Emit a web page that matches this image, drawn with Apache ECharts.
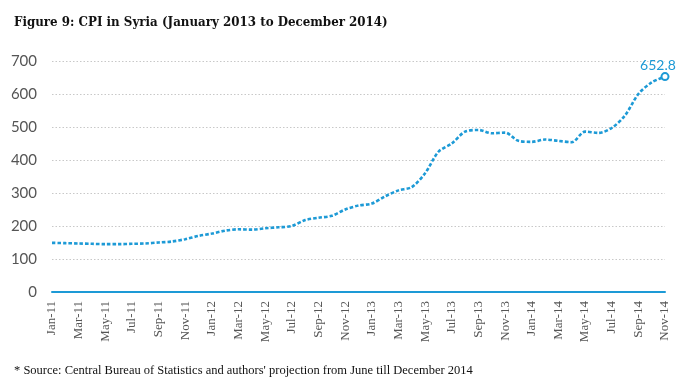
<!DOCTYPE html>
<html>
<head>
<meta charset="utf-8">
<script src="https://cdn.jsdelivr.net/npm/echarts@6/dist/echarts.min.js"></script>
<style>
html,body{margin:0;padding:0;background:#fff;}
#c{width:700px;height:379px;}
</style>
</head>
<body>
<div id="c"></div>
<script>
var titleText = 'Figure 9: CPI in Syria (January 2013 to December 2014)';
var footText = "* Source: Central Bureau of Statistics and authors' projection from June till December 2014";
var months = ['Jan-11','Feb-11','Mar-11','Apr-11','May-11','Jun-11','Jul-11','Aug-11','Sep-11','Oct-11','Nov-11','Dec-11',
              'Jan-12','Feb-12','Mar-12','Apr-12','May-12','Jun-12','Jul-12','Aug-12','Sep-12','Oct-12','Nov-12','Dec-12',
              'Jan-13','Feb-13','Mar-13','Apr-13','May-13','Jun-13','Jul-13','Aug-13','Sep-13','Oct-13','Nov-13','Dec-13',
              'Jan-14','Feb-14','Mar-14','Apr-14','May-14','Jun-14','Jul-14','Aug-14','Sep-14','Oct-14','Nov-14'];
var cpi = [149,148,147,146,145,145,146,147,150,153,160,170,
           177,186,190,189,193,196,200,218,225,231,250,262,
           268,290,308,318,360,425,450,486,491,481,483,458,
           455,462,458,454,486,482,497,535,600,635,652.8];
var yTicks = [0,100,200,300,400,500,600,700];

var blue = '#1d9ad6';
var seriesData = cpi.map(function(v, i){
  if (i === cpi.length - 1) {
    return {value: v, symbol: 'emptyCircle', symbolSize: 7,
      itemStyle: {color: blue, borderColor: blue, borderWidth: 2},
      label: {show: true, position: 'top', distance: 1, offset: [-7, 1], color: blue, fontSize: 14,
              fontFamily: 'Lato, sans-serif', formatter: function(p){ return p.value.toFixed(1); }}};
  }
  return v;
});

var chart = echarts.init(document.getElementById('c'), null, {renderer: 'canvas'});
chart.setOption({
  animation: false,
  backgroundColor: '#fff',
  title: [{
    text: titleText, left: 9, top: 11,
    textStyle: {fontFamily: '"DejaVu Serif Condensed", serif', fontWeight: 'bold', fontSize: 13.2, color: '#111'}
  },{
    text: footText, left: 9, top: 359,
    textStyle: {fontFamily: '"Liberation Serif", serif', fontWeight: 'normal', fontSize: 12.5, color: '#111'}
  }],
  grid: {left: 52, right: 35, top: 61, bottom: 87},
  xAxis: {
    type: 'category', data: months, boundaryGap: false,
    axisLine: {show: true, lineStyle: {color: blue, width: 2}},
    axisTick: {show: false},
    axisLabel: {interval: 1, rotate: 90, margin: 9, color: '#555', fontSize: 13,
                fontFamily: '"Liberation Serif", serif'},
    splitLine: {show: false}
  },
  yAxis: {
    type: 'value', min: yTicks[0], max: yTicks[yTicks.length-1], interval: 100,
    axisLine: {show: false}, axisTick: {show: false},
    axisLabel: {color: '#555', fontSize: 15, margin: 15, fontFamily: 'Lato, sans-serif',
                formatter: function(v){ return yTicks.indexOf(v) >= 0 ? String(v) : ''; }},
    splitLine: {show: true, lineStyle: {color: '#c8c8c8', type: [1.5, 2], width: 1}}
  },
  series: [{
    type: 'line', data: seriesData, smooth: 0.3,
    symbol: 'none', showSymbol: true,
    lineStyle: {color: blue, width: 2.6, type: [3.5, 2]},
    itemStyle: {color: blue},
    z: 3
  }]
});
</script>
</body>
</html>
